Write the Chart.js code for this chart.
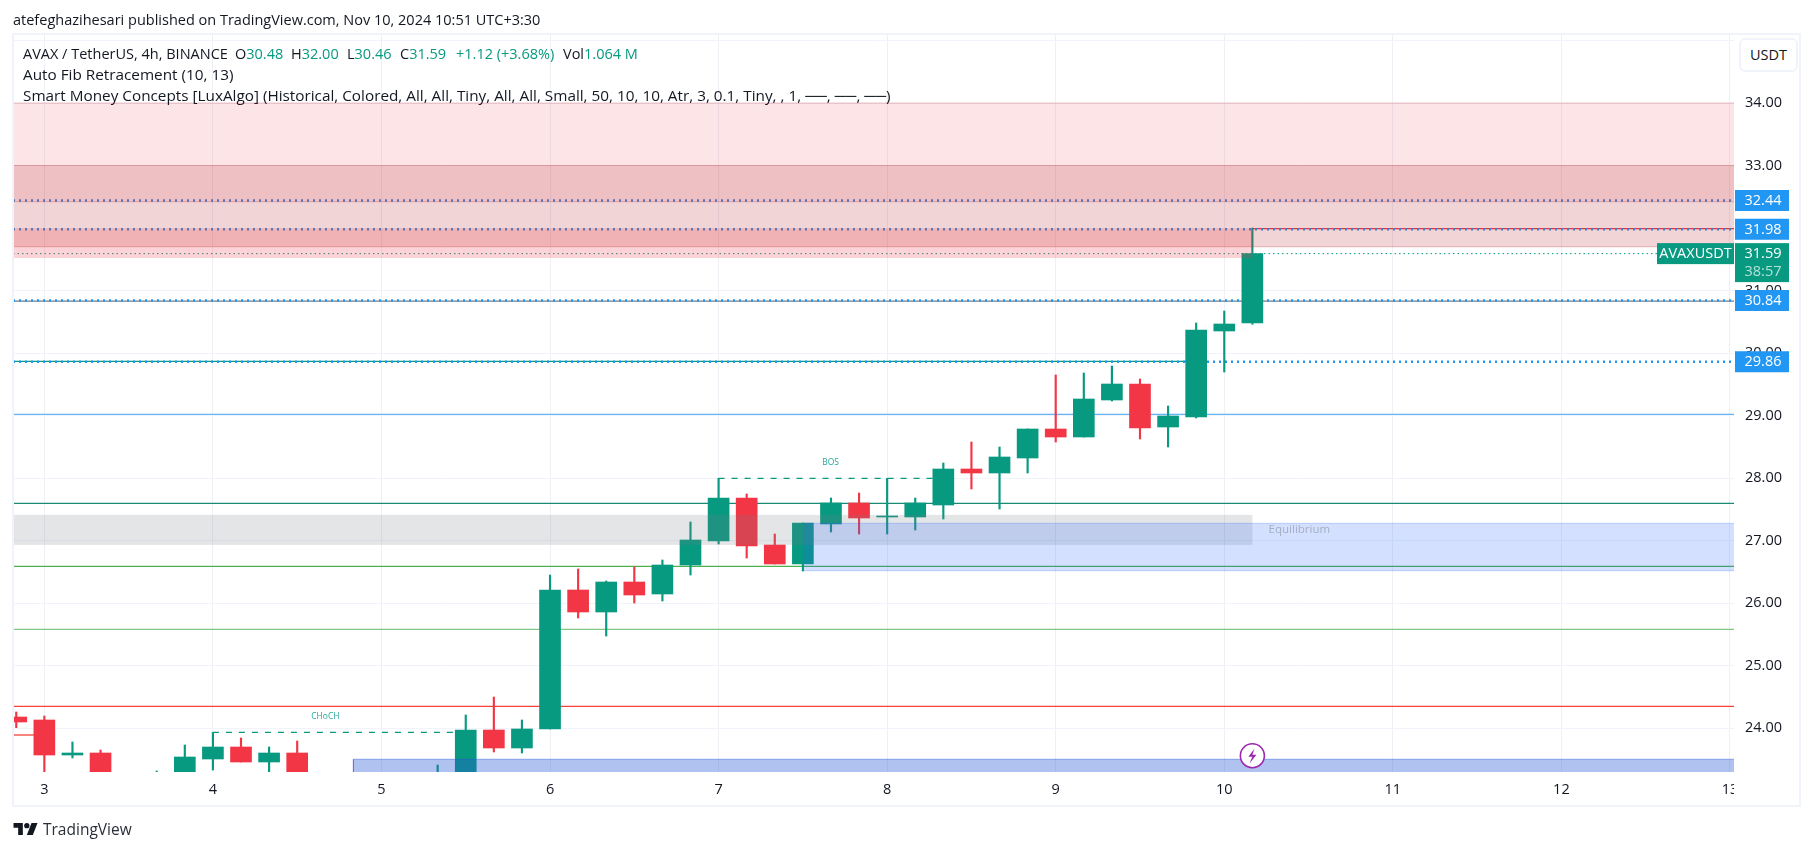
<!DOCTYPE html>
<html>
<head>
<meta charset="utf-8">
<title>AVAXUSDT 4h</title>
<script src="https://cdn.jsdelivr.net/npm/chart.js@4"></script>
<style>
    html, body { margin: 0; padding: 0; background: #fff; width: 1814px; height: 851px; overflow: hidden; }
    canvas { position: absolute; left: 0; top: 0; }
    .t { position: absolute; white-space: nowrap; font-family: "Open Sans", sans-serif; font-size: 14.5px; color: #131722; line-height: 20px; }
    .g { color: #089981; }
    #frame { position: absolute; left: 12px; top: 33px; width: 1785px; height: 770px; border: 2px solid #f0f3fa; pointer-events: none; }
    #unit { position: absolute; left: 1739px; top: 38px; width: 55px; height: 30px; border: 2px solid #f0f3fa; border-radius: 6px; background: #fff;
        font: 14.5px "Open Sans", sans-serif; color: #131722; text-align: center; line-height: 30px; }
</style>
</head>
<body>
<canvas id="chart" width="1814" height="851"></canvas>
<div id="frame"></div>
<div id="unit">USDT</div>
<div class="t" style="left:13px;top:10px">atefeghazihesari published on TradingView.com, Nov 10, 2024 10:51 UTC+3:30</div>
<div class="t" style="left:23px;top:44px">AVAX / TetherUS, 4h, BINANCE</div>
<div class="t" style="left:235px;top:44px">O<span class="g">30.48</span></div>
<div class="t" style="left:291px;top:44px">H<span class="g">32.00</span></div>
<div class="t" style="left:347px;top:44px">L<span class="g">30.46</span></div>
<div class="t" style="left:400px;top:44px">C<span class="g">31.59</span></div>
<div class="t g" style="left:456px;top:44px">+1.12 (+3.68%)</div>
<div class="t" style="left:563px;top:44px">Vol<span class="g">1.064 M</span></div>
<div class="t" style="left:23px;top:64px;font-size:15.3px">Auto Fib Retracement (10, 13)</div>
<div class="t" style="left:23px;top:85px;font-size:15.3px">Smart Money Concepts [LuxAlgo] (Historical, Colored, All, All, Tiny, All, All, Small, 50, 10, 10, Atr, 3, 0.1, Tiny, , 1, ──, ──, ──)</div>
<svg style="position:absolute;left:13px;top:823px" width="25" height="12" viewBox="0 0 36 18"><path fill="#131722" d="M0 0H14V18H7V7H0zM27 0H36L29 18H20z"/><circle cx="20" cy="4" r="4" fill="#131722"/></svg>
<div class="t" style="left:43px;top:819px;font-size:15.5px;color:#2a2e39">TradingView</div>
<script>
// candles are 4h apart, x is the day of month plus k/6
var candleX = [2.8333, 3, 3.1667, 3.3333, 3.5, 3.6667, 3.8333, 4, 4.1667, 4.3333, 4.5, 5.3333, 5.5, 5.6667, 5.8333,
    6, 6.1667, 6.3333, 6.5, 6.6667, 6.8333, 7, 7.1667, 7.3333, 7.5, 7.6667, 7.8333, 8, 8.1667, 8.3333, 8.5, 8.6667, 8.8333,
    9, 9.1667, 9.3333, 9.5, 9.6667, 9.8333, 10, 10.1667];
var opens = [24.176, 24.128, 23.568, 23.6, 23.1, 23.0, 23.1, 23.504, 23.696, 23.456, 23.6, 23.0, 23.1, 23.968, 23.68,
    23.984, 26.208, 25.856, 26.336, 26.144, 26.608, 26.992, 27.68, 26.928, 26.624, 27.264, 27.6, 27.376, 27.376, 27.568, 28.144, 28.08, 28.32,
    28.784, 28.656, 29.248, 29.504, 28.816, 28.976, 30.352, 30.48];
var closes = [24.096, 23.568, 23.6, 23.15, 23.0, 23.1, 23.536, 23.696, 23.456, 23.6, 23.15, 23.1, 23.968, 23.68, 23.984,
    26.208, 25.856, 26.336, 26.128, 26.608, 27.008, 27.68, 26.912, 26.624, 27.28, 27.6, 27.36, 27.392, 27.6, 28.144, 28.08, 28.336, 28.784,
    28.656, 29.264, 29.504, 28.8, 28.992, 30.368, 30.464, 31.59];
var highs = [24.256, 24.192, 23.776, 23.648, 23.2, 23.312, 23.728, 23.93, 23.84, 23.696, 23.792, 23.408, 24.208, 24.496, 24.128,
    26.448, 26.544, 26.352, 26.576, 26.688, 27.296, 27.995, 27.744, 27.104, 27.28, 27.68, 27.76, 27.995, 27.68, 28.24, 28.576, 28.496, 28.784,
    29.648, 29.68, 29.792, 29.584, 29.152, 30.48, 30.672, 32.0];
var lows = [24.005, 23.1, 23.52, 23.1, 22.9, 22.95, 23.0, 23.328, 23.456, 23.1, 23.0, 23.0, 23.0, 23.616, 23.6,
    23.984, 25.76, 25.472, 26.0, 26.032, 26.448, 26.944, 26.72, 26.624, 26.512, 27.136, 27.104, 27.104, 27.168, 27.344, 27.824, 27.504, 28.08,
    28.576, 28.656, 29.232, 28.624, 28.496, 28.96, 29.696, 30.46];

var dayTicks = [3, 4, 5, 6, 7, 8, 9, 10, 11, 12, 13];
var priceTicks = [24, 25, 26, 27, 28, 29, 30, 31, 32, 33, 34, 35];

var xMin = 2.814, xMax = 13.024;
var yMin = 23.296, yMax = 35.088;

// fib and level lines: value, start day, end day, colour
var levelValues = [24.347, 25.579, 26.587, 27.595, 29.019, 29.867, 30.83, 31.99, 23.888];
var levelStarts = [xMin, xMin, xMin, xMin, xMin, xMin, xMin, 10.1667, xMin];
var levelEnds = [xMax, xMax, xMax, xMax, xMax, 9.8333, xMax, xMax, 3];
var levelColors = ['#f44336', '#81c784', '#4caf50', '#1a8a74', '#64b5f6', '#089981', '#787b86', '#f23645', '#f44336'];

// dotted price lines
var dottedValues = [32.44, 31.98, 31.59, 30.84, 29.86];
var dottedColors = ['#2196f3', '#2196f3', '#089981', '#2196f3', '#2196f3'];

// right side tags
var tagValues = [32.44, 31.98, 30.84, 29.86];

// structure lines
var bosX = [7, 8.3333], bosY = [27.995, 27.995];
var chochX = [4, 5.5], chochY = [23.93, 23.93];

// zones: x from, x to, y from, y to
var zoneX0 = [xMin, xMin, xMin, xMin, 7.5, 4.8333];
var zoneX1 = [xMax, xMax, 10.1667, 10.1667, xMax, xMax];
var zoneY0 = [32.42, 31.7, 31.52, 26.93, 26.517, 23.0];
var zoneY1 = [34, 33, 31.99, 27.41, 27.275, 23.5];
var zoneFill = ['rgba(242,54,69,0.13)', 'rgba(180,40,50,0.2)', 'rgba(242,54,69,0.22)', 'rgba(120,123,134,0.2)', 'rgba(41,98,255,0.2)', 'rgba(41,90,215,0.37)'];
var zoneLine = ['rgba(178,40,51,0.25)', 'rgba(178,40,51,0.3)', null, null, 'rgba(41,98,255,0.25)', 'rgba(41,90,215,0.45)'];

var up = '#089981', down = '#f23645';
var colors = closes.map(function (c, i) { return c >= opens[i] ? up : down; });

function pairs(xs, a, b) {
    return xs.map(function (x, i) { return {x: x, y: [a[i], b[i]]}; });
}

var datasets = [
    {type: 'bar', order: 2, data: pairs(candleX, lows, highs), backgroundColor: colors, barThickness: 1.5, grouped: false},
    {type: 'bar', order: 1, data: pairs(candleX, opens, closes), backgroundColor: colors, barThickness: 21, grouped: false,
        minBarLength: 1}
];

levelValues.forEach(function (v, i) {
    datasets.push({type: 'line', order: 5, data: [{x: levelStarts[i], y: v}, {x: levelEnds[i], y: v}],
        borderColor: levelColors[i], borderWidth: 1.3, pointRadius: 0});
});
dottedValues.forEach(function (v, i) {
    datasets.push({type: 'line', order: 4, data: [{x: xMin, y: v}, {x: xMax, y: v}],
        borderColor: dottedColors[i], borderWidth: i == 2 ? 1 : 2.4, borderDash: i == 2 ? [1.5, 3] : [2, 4], pointRadius: 0});
});
datasets.push({type: 'line', order: 3, data: [{x: bosX[0], y: bosY[0]}, {x: bosX[1], y: bosY[1]}],
    borderColor: up, borderWidth: 1.2, borderDash: [6, 7], pointRadius: 0});
datasets.push({type: 'line', order: 3, data: [{x: chochX[0], y: chochY[0]}, {x: chochX[1], y: chochY[1]}],
    borderColor: up, borderWidth: 1.2, borderDash: [6, 7], pointRadius: 0});

var overlays = {
    id: 'overlays',
    afterDatasetsDraw: function (chart) {
        var c = chart.ctx, x = chart.scales.x, y = chart.scales.y, area = chart.chartArea;
        c.save();
        c.beginPath();
        c.rect(area.left, area.top, area.right - area.left, area.bottom - area.top);
        c.clip();
        zoneFill.forEach(function (f, i) {
            var l = x.getPixelForValue(zoneX0[i]), r = x.getPixelForValue(zoneX1[i]);
            var t = y.getPixelForValue(zoneY1[i]), b = y.getPixelForValue(zoneY0[i]);
            c.fillStyle = f;
            c.fillRect(l, t, r - l, b - t);
            if (zoneLine[i]) {
                c.strokeStyle = zoneLine[i];
                c.lineWidth = 1;
                c.beginPath();
                c.moveTo(l, t); c.lineTo(r, t);
                c.moveTo(l, b); c.lineTo(r, b);
                c.stroke();
            }
        });
        // left edge of the lower block
        c.strokeStyle = '#7e57c2';
        c.lineWidth = 1;
        c.beginPath();
        c.moveTo(x.getPixelForValue(4.8333), y.getPixelForValue(23.5));
        c.lineTo(x.getPixelForValue(4.8333), area.bottom);
        c.stroke();

        c.textAlign = 'center';
        c.textBaseline = 'middle';
        c.font = '8.5px "Open Sans", sans-serif';
        c.fillStyle = '#26a69a';
        c.fillText('BOS', x.getPixelForValue(7.664), y.getPixelForValue(28.24));
        c.fillText('CHoCH', x.getPixelForValue(4.667), y.getPixelForValue(24.18));
        c.textAlign = 'left';
        c.font = '11.5px "Open Sans", sans-serif';
        c.fillStyle = 'rgba(120,123,134,0.5)';
        c.fillText('Equilibrium', x.getPixelForValue(10.263), y.getPixelForValue(27.168));

        // lightning badge
        var bx = x.getPixelForValue(10.1667), by = y.getPixelForValue(23.557);
        c.strokeStyle = '#9c27b0';
        c.lineWidth = 1.6;
        c.fillStyle = '#fff';
        c.beginPath();
        c.arc(bx, by, 12, 0, Math.PI * 2);
        c.fill();
        c.stroke();
        c.fillStyle = '#9c27b0';
        c.beginPath();
        c.moveTo(bx + 2, by - 7); c.lineTo(bx - 4, by + 1); c.lineTo(bx, by + 1);
        c.lineTo(bx - 3, by + 8); c.lineTo(bx + 4, by - 1); c.lineTo(bx, by - 1);
        c.closePath();
        c.fill();
        c.restore();
    },
    afterDraw: function (chart) {
        var c = chart.ctx, y = chart.scales.y, area = chart.chartArea;
        c.save();
        // the last date label is cut by the price scale
        c.fillStyle = '#fff';
        c.fillRect(area.right, area.bottom + 1, 14, 30);
        c.font = '14.5px "Open Sans", sans-serif';
        c.textAlign = 'center';
        c.textBaseline = 'middle';
        tagValues.forEach(function (v) {
            var py = y.getPixelForValue(v);
            c.fillStyle = '#2196f3';
            c.fillRect(area.right + 1, py - 10.5, 54, 21);
            c.fillStyle = '#fff';
            c.fillText(v.toFixed(2), area.right + 29, py + 0.5);
        });
        var last = y.getPixelForValue(closes[closes.length - 1]);
        c.fillStyle = up;
        c.fillRect(area.right + 1, last - 10.5, 54, 39);
        c.fillRect(area.right - 77, last - 10.5, 77, 21);
        c.fillStyle = '#fff';
        c.fillText(closes[closes.length - 1].toFixed(2), area.right + 29, last + 0.5);
        c.fillText('AVAXUSDT', area.right - 38.5, last + 0.5);
        c.fillStyle = 'rgba(255,255,255,0.7)';
        c.fillText('38:57', area.right + 29, last + 18.5);
        c.restore();
    }
};

new Chart(document.getElementById('chart').getContext('2d'), {
    data: {datasets: datasets},
    plugins: [overlays],
    options: {
        responsive: false,
        animation: false,
        events: [],
        layout: {padding: {left: 13, top: 35, right: 14, bottom: 44}},
        plugins: {legend: {display: false}, tooltip: {enabled: false}},
        scales: {
            x: {
                type: 'linear', min: xMin, max: xMax, offset: false,
                afterBuildTicks: function (s) { s.ticks = dayTicks.map(function (v) { return {value: v}; }); },
                afterFit: function (s) { s.height = 35; },
                grid: {color: '#eef0f6', drawTicks: false, offset: false},
                border: {display: false},
                ticks: {autoSkip: false, maxRotation: 0, padding: 9, color: '#131722',
                    font: {family: 'Open Sans', size: 14.5},
                    callback: function (v) { return String(v); }}
            },
            y: {
                type: 'linear', position: 'right', min: yMin, max: yMax,
                afterBuildTicks: function (s) { s.ticks = priceTicks.map(function (v) { return {value: v}; }); },
                afterFit: function (s) { s.width = 66; },
                grid: {color: '#f0f3fa', drawTicks: false},
                border: {display: false},
                ticks: {padding: 11, color: '#131722', font: {family: 'Open Sans', size: 14.5},
                    callback: function (v) { return v >= 35 ? '' : v.toFixed(2); }}
            }
        }
    }
});
</script>
</body>
</html>
